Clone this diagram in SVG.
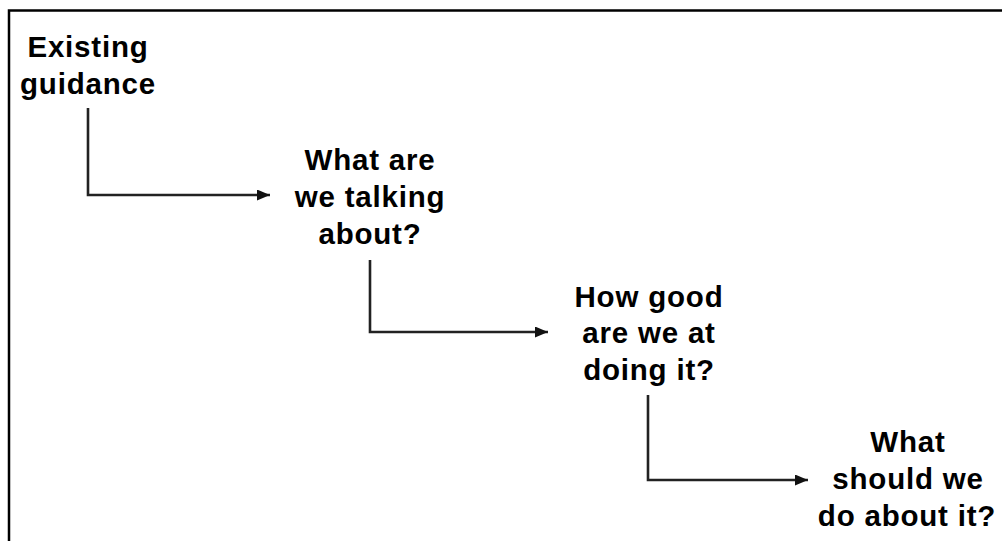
<svg xmlns="http://www.w3.org/2000/svg" width="1002" height="541" viewBox="0 0 1002 541">
  <defs>
    <marker id="arrow" viewBox="0 0 13 11" refX="13" refY="5.5" markerWidth="13" markerHeight="11" markerUnits="userSpaceOnUse" orient="auto">
      <path d="M0,0 L13,5.5 L0,11 Z" fill="#111"/>
    </marker>
    <style>
      .label { font-family: "Liberation Sans", Arial, sans-serif; font-weight: bold; font-size: 29.5px; letter-spacing: 0.8px; fill: #000; text-anchor: middle; }
      .link { fill: none; stroke: #222; stroke-width: 2.6; marker-end: url(#arrow); }
      .frame { fill: none; stroke: #000; stroke-width: 2.5; }
    </style>
  </defs>
  <rect width="1002" height="541" fill="#fff"/>
  <!-- open frame: top and left edges -->
  <path class="frame" d="M9,541 L9,10.5 L1002,10.5"/>

  <g id="connectors">
    <path class="link" d="M88,108 L88,195 L270,195"/>
    <path class="link" d="M370,260 L370,332 L548,332"/>
    <path class="link" d="M648,395 L648,480 L808,480"/>
  </g>

  <g id="existing-guidance">
    <text class="label" x="88" y="57">Existing</text>
    <text class="label" x="88" y="94">guidance</text>
  </g>
  <g id="what-are-we-talking-about">
    <text class="label" x="370" y="170">What are</text>
    <text class="label" x="370" y="207">we talking</text>
    <text class="label" x="370" y="244">about?</text>
  </g>
  <g id="how-good-are-we">
    <text class="label" x="649" y="307">How good</text>
    <text class="label" x="649" y="343">are we at</text>
    <text class="label" x="649" y="380">doing it?</text>
  </g>
  <g id="what-should-we-do">
    <text class="label" x="908" y="452">What</text>
    <text class="label" x="908" y="489">should we</text>
    <text class="label" x="907" y="526">do about it?</text>
  </g>
</svg>
